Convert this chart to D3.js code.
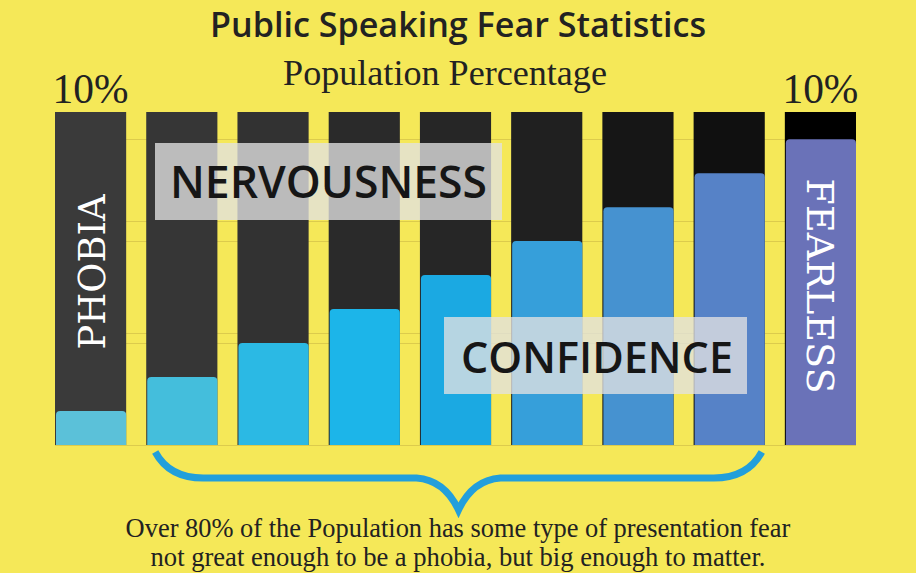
<!DOCTYPE html>
<html>
<head>
<meta charset="utf-8">
<script src="https://cdn.jsdelivr.net/npm/d3@7"></script>
<style>
  html, body { margin: 0; padding: 0; background: #F5E858; }
  svg { display: block; }
</style>
</head>
<body>
<svg id="chart" width="916" height="573"></svg>
<script>
// ---- data ----
const categories = ["Phobia", "Level 2", "Level 3", "Level 4", "Level 5", "Level 6", "Level 7", "Level 8", "Fearless"];
const values = [10, 20, 30, 40, 50, 60, 70, 80, 90];
const barColors = ["#5BC1D9", "#44BEDC", "#2BB9E4", "#1CB5E9", "#1BA9E2", "#369FDA", "#4692D0", "#5682C7", "#6A72B8"];
const columnColors = ["#3a3a3a", "#363636", "#323232", "#2a2a2a", "#262626", "#202020", "#161616", "#101010", "#000000"];
const gridValues = [30, 33, 60, 66, 90];
const yMax = 98;
const topLabels = ["10%", "10%"];
const title = "Public Speaking Fear Statistics";
const subtitle = "Population Percentage";
const footerLines = [
  "Over 80% of the Population has some type of presentation fear",
  "not great enough to be a phobia, but big enough to matter."
];

const svg = d3.select("#chart");
const W = 916, H = 573;
svg.append("rect").attr("width", W).attr("height", H).attr("fill", "#F5E858");

const x = d3.scaleBand().domain(categories).range([55, 856]).paddingInner(0.22).paddingOuter(0);
const y = d3.scaleLinear().domain([0, yMax]).range([445, 112]);

const serif = "'Liberation Serif', 'DejaVu Serif', serif";
const slab = "'DejaVu Serif', 'Liberation Serif', serif";
const sans = "'Open Sans', 'Noto Sans', sans-serif";

function fit(sel, target) {
  const node = sel.node();
  const fs = parseFloat(sel.attr("font-size"));
  const w = node.getComputedTextLength();
  if (w > 0) sel.attr("font-size", (fs * target / w).toFixed(2));
  return sel;
}

// gridlines
svg.append("g").selectAll("line").data(gridValues).join("line")
  .attr("x1", x.range()[0]).attr("x2", x.range()[1])
  .attr("y1", d => Math.round(y(d)) + 0.5).attr("y2", d => Math.round(y(d)) + 0.5)
  .attr("stroke", "#DCCB4C").attr("stroke-width", 1);
svg.append("line")
  .attr("x1", x.range()[0]).attr("x2", x.range()[1])
  .attr("y1", y(0) + 0.5).attr("y2", y(0) + 0.5)
  .attr("stroke", "#DCCB4C");

// dark columns
svg.append("g").selectAll("rect").data(categories).join("rect")
  .attr("x", d => x(d)).attr("width", x.bandwidth())
  .attr("y", y(yMax)).attr("height", y(0) - y(yMax))
  .attr("fill", (d, i) => columnColors[i]);

// coloured bars with rounded tops
function topRounded(x0, y0, w, h, r) {
  const p = d3.path();
  p.moveTo(x0, y0 + h);
  p.lineTo(x0, y0 + r);
  p.quadraticCurveTo(x0, y0, x0 + r, y0);
  p.lineTo(x0 + w - r, y0);
  p.quadraticCurveTo(x0 + w, y0, x0 + w, y0 + r);
  p.lineTo(x0 + w, y0 + h);
  p.closePath();
  return p.toString();
}
svg.append("g").selectAll("path").data(values).join("path")
  .attr("d", (v, i) => topRounded(x(categories[i]) + 1, y(v), x.bandwidth() - 1, y(0) - y(v), 4))
  .attr("fill", (v, i) => barColors[i]);

// title & subtitle
fit(svg.append("text").text(title)
  .attr("x", 458).attr("y", 37).attr("text-anchor", "middle")
  .attr("font-family", "'Open Sans', 'Noto Sans', sans-serif").attr("font-weight", 600)
  .attr("font-size", 30).attr("fill", "#222222"), 496);

fit(svg.append("text").text(subtitle)
  .attr("x", 445).attr("y", 85).attr("text-anchor", "middle")
  .attr("font-family", serif).attr("font-size", 26).attr("fill", "#222222"), 324);

// 10% labels above first and last columns
const ends = [categories[0], categories[categories.length - 1]];
ends.forEach((c, i) => {
  fit(svg.append("text").text(topLabels[i])
    .attr("x", x(c) + x.bandwidth() / 2).attr("y", 103).attr("text-anchor", "middle")
    .attr("font-family", serif).attr("font-size", 36).attr("fill", "#222222"), 76);
});

// label boxes
function labelBox(txt, bx, by, bw, bh, tx, ty, tw) {
  svg.append("rect").attr("x", bx).attr("y", by).attr("width", bw).attr("height", bh)
    .attr("fill", "#E2E2E2").attr("fill-opacity", 0.78);
  fit(svg.append("text").text(txt)
    .attr("x", tx).attr("y", ty).attr("text-anchor", "middle")
    .attr("font-family", sans).attr("font-weight", 600)
    .attr("font-size", 46).attr("fill", "#161616"), tw);
}
labelBox("NERVOUSNESS", 155, 143, 347, 77, 328.5, 198, 317);
labelBox("CONFIDENCE", 444, 317, 303, 77, 597, 373, 272);

// vertical labels
const c0 = categories[0], c8 = categories[8];
fit(svg.append("text").text("PHOBIA")
  .attr("transform", `translate(${x(c0) + x.bandwidth() / 2 + 14},272) rotate(-90)`)
  .attr("text-anchor", "middle")
  .attr("font-family", slab).attr("font-size", 38).attr("fill", "#ffffff"), 155);
fit(svg.append("text").text("FEARLESS")
  .attr("transform", `translate(${x(c8) + x.bandwidth() / 2 - 13},286) rotate(90)`)
  .attr("text-anchor", "middle")
  .attr("font-family", slab).attr("font-size", 38).attr("fill", "#ffffff"), 215);

// curly brace under bars 2..8
const bx0 = x(categories[1]) + 9, bx1 = x(categories[7]) + x.bandwidth() - 3;
const bmid = (bx0 + bx1) / 2;
const btop = y(0) + 7, bline = y(0) + 33, btip = y(0) + 65;
const bp = d3.path();
bp.moveTo(bx0, btop);
bp.quadraticCurveTo(bx0 + 14, bline, bx0 + 48, bline);
bp.lineTo(bmid - 42, bline);
bp.quadraticCurveTo(bmid - 14, bline + 2, bmid, btip);
bp.quadraticCurveTo(bmid + 14, bline + 2, bmid + 42, bline);
bp.lineTo(bx1 - 48, bline);
bp.quadraticCurveTo(bx1 - 14, bline, bx1, btop);
svg.append("path").attr("d", bp.toString())
  .attr("fill", "none").attr("stroke", "#229FDB").attr("stroke-width", 7)
  .attr("stroke-linejoin", "miter").attr("stroke-linecap", "butt");

// footer
const footerY = [537, 566];
const footerW = [665, 615];
footerLines.forEach((t, i) => {
  fit(svg.append("text").text(t)
    .attr("x", 458).attr("y", footerY[i]).attr("text-anchor", "middle")
    .attr("font-family", serif).attr("font-size", 23).attr("fill", "#222222"), footerW[i]);
});
</script>
</body>
</html>
